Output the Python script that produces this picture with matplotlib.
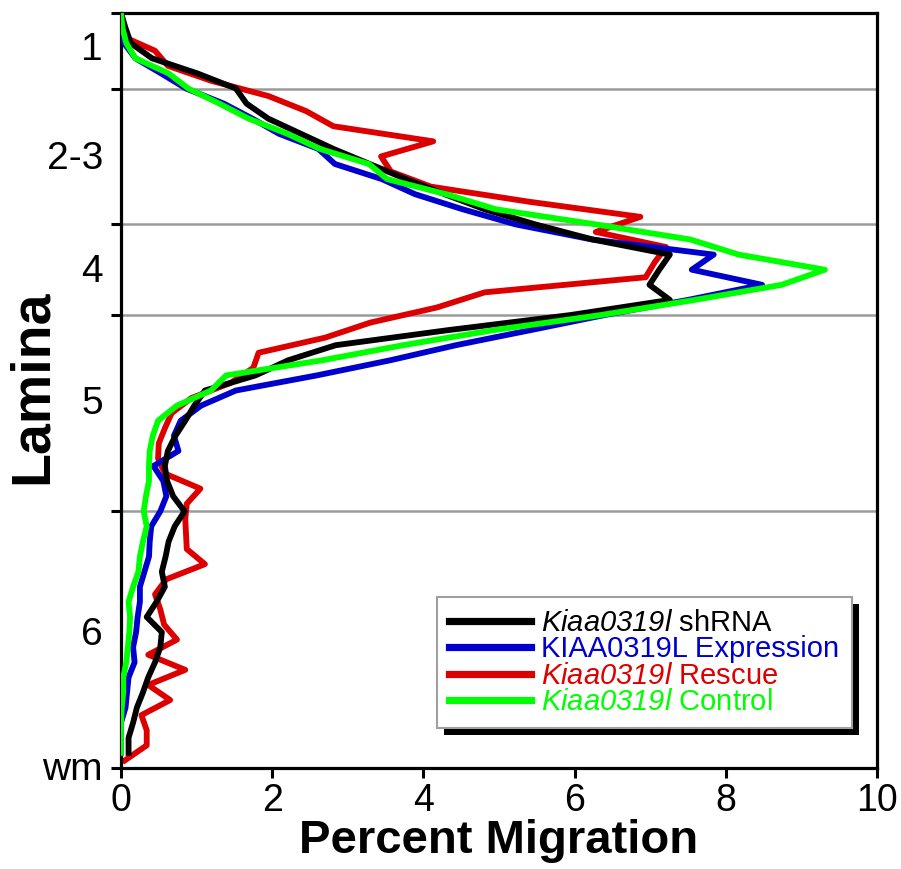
import numpy as np
import matplotlib
matplotlib.use("Agg")
import matplotlib.pyplot as plt
from matplotlib.patches import Rectangle

# ---------------- data ----------------
depth = np.arange(50)            # bin index from pia (0) to white matter (49)
depth_rescue = depth + 0.5       # rescue series sampled half a bin lower

shrna = [0.0, 0.06, 0.13, 0.41, 1.01, 1.52, 1.66, 1.95, 2.38, 2.81,
         3.29, 3.77, 4.28, 4.81, 5.48, 6.24, 7.26, 7.12, 6.99, 7.26,
         5.95, 4.33, 2.84, 2.21, 1.78, 1.11, 0.97, 0.85, 0.72, 0.62,
         0.58, 0.61, 0.69, 0.84, 0.71, 0.63, 0.59, 0.54, 0.58, 0.47,
         0.34, 0.54, 0.52, 0.45, 0.36, 0.29, 0.21, 0.16, 0.10, 0.10]

expression = [0.0, 0.01, 0.04, 0.19, 0.53, 0.86, 1.36, 1.74, 2.09, 2.61,
              2.83, 3.45, 3.89, 4.52, 5.22, 6.23, 7.84, 7.55, 8.48, 7.50,
              6.40, 5.42, 4.43, 3.56, 2.59, 1.52, 1.06, 0.79, 0.70, 0.76,
              0.43, 0.56, 0.60, 0.52, 0.40, 0.38, 0.37, 0.31, 0.25, 0.25,
              0.22, 0.20, 0.16, 0.18, 0.10, 0.08, 0.06, 0.0, 0.0, 0.0]

rescue = [0.0, 0.0, 0.45, 0.62, 1.20, 1.95, 2.45, 2.81, 4.13, 3.44,
          3.57, 4.10, 5.40, 6.87, 6.28, 7.21, 7.06, 6.94, 4.81, 4.18,
          3.30, 2.70, 1.82, 1.75, 1.45, 0.93, 0.67, 0.58, 0.50, 0.49,
          0.58, 1.05, 0.87, 0.85, 0.86, 0.87, 1.11, 0.60, 0.45, 0.52,
          0.57, 0.74, 0.36, 0.85, 0.36, 0.65, 0.27, 0.34, 0.34, 0.05]

control = [0.0, 0.02, 0.07, 0.19, 0.63, 0.89, 1.30, 1.69, 2.20, 2.63,
           3.28, 3.52, 4.30, 4.96, 6.28, 7.53, 8.17, 9.31, 8.74, 7.59,
           6.35, 4.93, 3.73, 2.66, 1.39, 1.19, 0.74, 0.49, 0.42, 0.38,
           0.37, 0.37, 0.33, 0.30, 0.34, 0.29, 0.25, 0.23, 0.16, 0.10,
           0.12, 0.11, 0.09, 0.07, 0.03, 0.03, 0.01, 0.0, 0.0, 0.0]

layer_bounds = [0, 5, 14, 20, 33, 50]
layer_labels = ["1", "2-3", "4", "5", "6", "wm"]
layer_label_pos = [2.2, 9.4, 16.9, 25.6, 40.9, 49.9]
x_ticks = [0, 2, 4, 6, 8, 10]

series_labels = [r"$Kiaa0319l$ shRNA",
                 "KIAA0319L Expression",
                 r"$Kiaa0319l$ Rescue",
                 r"$Kiaa0319l$ Control"]

# ---------------- style ----------------
plt.rcParams['font.family'] = ['Liberation Sans', 'DejaVu Sans']
plt.rcParams['mathtext.fontset'] = 'custom'
plt.rcParams['mathtext.it'] = 'Liberation Sans:italic'
plt.rcParams['mathtext.rm'] = 'Liberation Sans:italic'
plt.rcParams['mathtext.bf'] = 'Liberation Sans:bold'

C_BLACK = '#000000'
C_BLUE = '#0000cc'
C_RED = '#dd0000'
C_GREEN = '#00ff00'
LW = 4.2

fig = plt.figure(figsize=(9.01, 8.69), dpi=100)
ax = fig.add_axes([121 / 901, 1 - 768 / 869, 756 / 901, 755 / 869])

for b in layer_bounds[1:-1]:
    ax.axhline(b, color='#9a9a9a', lw=1.8, zorder=1)

l_red, = ax.plot(rescue, depth_rescue, color=C_RED, lw=LW, zorder=2)
l_blue, = ax.plot(expression, depth, color=C_BLUE, lw=LW, zorder=3)
l_black, = ax.plot(shrna, depth, color=C_BLACK, lw=LW, zorder=4)
l_green, = ax.plot(control, depth, color=C_GREEN, lw=LW, zorder=4.2)

ax.set_xlim(0, 10)
ax.set_ylim(50, 0)

for s in ax.spines.values():
    s.set_linewidth(2.3)
    s.set_color('black')

ax.set_xticks(x_ticks)
ax.set_xticklabels([str(t) for t in x_ticks])
ax.tick_params(axis='x', direction='out', length=7, width=2.2, pad=4,
               labelsize=27)
for lab in ax.get_xticklabels():
    lab.set_fontfamily(['Liberation Sans Narrow', 'Liberation Sans'])

ax.set_yticks(layer_bounds)
ax.set_yticklabels([])
ax.set_yticks(layer_label_pos, minor=True)
ax.set_yticklabels(layer_labels, minor=True)
ax.tick_params(axis='y', which='major', direction='out', length=7, width=2.2)
ax.tick_params(axis='y', which='minor', length=0, pad=13, labelsize=28)

ax.set_xlabel("Percent Migration", fontsize=34, fontweight='bold', labelpad=0)
ax.set_ylabel("Lamina", fontsize=40, fontweight='bold')
ax.yaxis.set_label_coords(-0.083, 0.505)

leg = ax.legend([l_black, l_blue, l_red, l_green], series_labels,
                loc='upper left', bbox_to_anchor=(0.418, 0.2265),
                borderaxespad=0, fontsize=21, labelcolor='linecolor',
                handlelength=2.8, handletextpad=0.35, borderpad=0.42,
                labelspacing=-0.06, fancybox=False, framealpha=1,
                edgecolor='#a0a0a0')
leg.get_frame().set_linewidth(1.5)
for h in leg.get_lines():
    h.set_linewidth(5.2)

fig.canvas.draw()
bb = leg.get_window_extent().transformed(ax.transAxes.inverted())
dx = 7 / 756
dy = 7 / 755
ax.add_patch(Rectangle((bb.x0 + dx, bb.y0 - dy), bb.width, bb.height,
                       facecolor='black', edgecolor='none',
                       transform=ax.transAxes, zorder=4.9, clip_on=False))

fig.savefig("out.png", dpi=100)
